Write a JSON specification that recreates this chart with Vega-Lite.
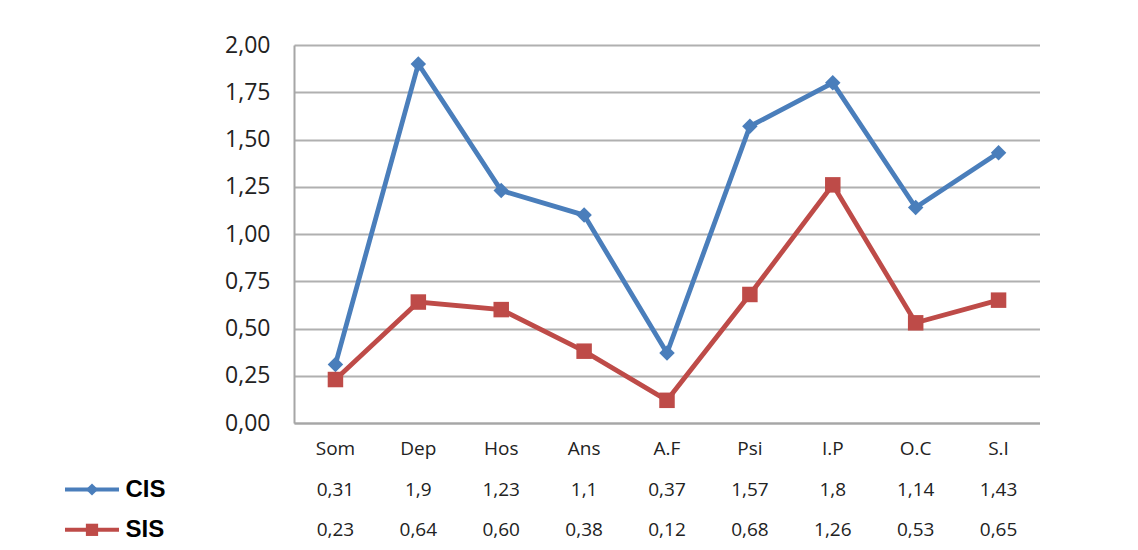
{
  "$schema": "https://vega.github.io/schema/vega-lite/v6.json",
  "padding": {"left": 63, "top": 34, "right": 0, "bottom": 0},
  "background": "white",
  "datasets": {
    "scores": [
      {"cat": "Som", "CIS": 0.31, "SIS": 0.23},
      {"cat": "Dep", "CIS": 1.9, "SIS": 0.64},
      {"cat": "Hos", "CIS": 1.23, "SIS": 0.60},
      {"cat": "Ans", "CIS": 1.1, "SIS": 0.38},
      {"cat": "A.F", "CIS": 0.37, "SIS": 0.12},
      {"cat": "Psi", "CIS": 1.57, "SIS": 0.68},
      {"cat": "I.P", "CIS": 1.8, "SIS": 1.26},
      {"cat": "O.C", "CIS": 1.14, "SIS": 0.53},
      {"cat": "S.I", "CIS": 1.43, "SIS": 0.65}
    ]
  },
  "columns": 2,
  "spacing": {"row": 6, "column": 0},
  "align": "each",
  "bounds": "flush",
  "concat": [
    {
      "width": 229,
      "height": 378,
      "data": {"values": []},
      "mark": "point"
    },
    {
      "width": 746,
      "height": 378,
      "data": {"name": "scores"},
      "transform": [{"fold": ["CIS", "SIS"], "as": ["serie", "valor"]}],
      "encoding": {
        "x": {
          "field": "cat", "type": "nominal",
          "sort": ["Som", "Dep", "Hos", "Ans", "A.F", "Psi", "I.P", "O.C", "S.I"],
          "scale": {"type": "point", "padding": 0.5},
          "axis": {"labels": false, "ticks": false, "title": null, "grid": false, "domainColor": "#a6a6a6", "domainWidth": 2}
        },
        "y": {
          "field": "valor", "type": "quantitative",
          "scale": {"domain": [0, 2], "nice": false},
          "axis": {
            "values": [0, 0.25, 0.5, 0.75, 1, 1.25, 1.5, 1.75, 2],
            "format": ".2f", "title": null, "ticks": false, "labelPadding": 24,
            "labelFont": "Open Sans", "labelFontSize": 23, "labelColor": "#222222",
            "domainColor": "#a6a6a6", "domainWidth": 2,
            "grid": true, "gridColor": "#b0b0b0", "gridWidth": 2
          }
        },
        "color": {
          "field": "serie", "type": "nominal",
          "scale": {"domain": ["CIS", "SIS"], "range": ["#4a7ebb", "#be4b48"]},
          "legend": null
        }
      },
      "layer": [
        {"mark": {"type": "line", "strokeWidth": 4.8}},
        {
          "mark": {"type": "point", "filled": true, "opacity": 1, "size": 240},
          "encoding": {
            "shape": {"field": "serie", "type": "nominal", "scale": {"domain": ["CIS", "SIS"], "range": ["diamond", "square"]}, "legend": null}
          }
        }
      ]
    },
    {
      "width": 54,
      "height": 121,
      "data": {"values": [{"serie": "CIS"}, {"serie": "SIS"}]},
      "encoding": {
        "y": {
          "field": "serie", "type": "nominal",
          "scale": {"type": "point", "domain": ["hdr", "CIS", "SIS"], "padding": 0.5},
          "axis": {
            "orient": "right", "title": null, "domain": false, "ticks": false, "grid": false,
            "labelExpr": "datum.value == 'hdr' ? '' : datum.value",
            "labelPadding": 6, "labelFont": "Liberation Sans", "labelFontWeight": "bold",
            "labelFontSize": 24, "labelColor": "#000000"
          }
        },
        "color": {
          "field": "serie", "type": "nominal",
          "scale": {"domain": ["CIS", "SIS"], "range": ["#4a7ebb", "#be4b48"]},
          "legend": null
        }
      },
      "layer": [
        {"mark": {"type": "rule", "strokeWidth": 4}},
        {
          "mark": {"type": "point", "filled": true, "opacity": 1, "size": 150},
          "encoding": {
            "shape": {"field": "serie", "type": "nominal", "scale": {"domain": ["CIS", "SIS"], "range": ["diamond", "square"]}, "legend": null}
          }
        }
      ]
    },
    {
      "width": 746,
      "height": 121,
      "data": {"name": "scores"},
      "encoding": {
        "x": {
          "field": "cat", "type": "nominal",
          "sort": ["Som", "Dep", "Hos", "Ans", "A.F", "Psi", "I.P", "O.C", "S.I"],
          "scale": {"type": "point", "padding": 0.5},
          "axis": null
        }
      },
      "layer": [
        {
          "mark": {"type": "text", "font": "Open Sans", "fontSize": 19, "color": "#222222"},
          "encoding": {
            "y": {"datum": "hdr", "type": "nominal", "scale": {"type": "point", "domain": ["hdr", "CIS", "SIS"], "padding": 0.5}, "axis": null},
            "text": {"field": "cat", "type": "nominal"}
          }
        },
        {
          "mark": {"type": "text", "font": "Open Sans", "fontSize": 19, "color": "#222222"},
          "encoding": {
            "y": {"datum": "CIS", "type": "nominal", "scale": {"type": "point", "domain": ["hdr", "CIS", "SIS"], "padding": 0.5}, "axis": null},
            "text": {"field": "CIS", "type": "quantitative", "format": ".2~f"}
          }
        },
        {
          "mark": {"type": "text", "font": "Open Sans", "fontSize": 19, "color": "#222222"},
          "encoding": {
            "y": {"datum": "SIS", "type": "nominal", "scale": {"type": "point", "domain": ["hdr", "CIS", "SIS"], "padding": 0.5}, "axis": null},
            "text": {"field": "SIS", "type": "quantitative", "format": ".2f"}
          }
        }
      ]
    }
  ],
  "config": {
    "view": {"stroke": null},
    "locale": {"number": {"decimal": ",", "thousands": ".", "grouping": [3], "currency": ["", " €"]}}
  }
}
